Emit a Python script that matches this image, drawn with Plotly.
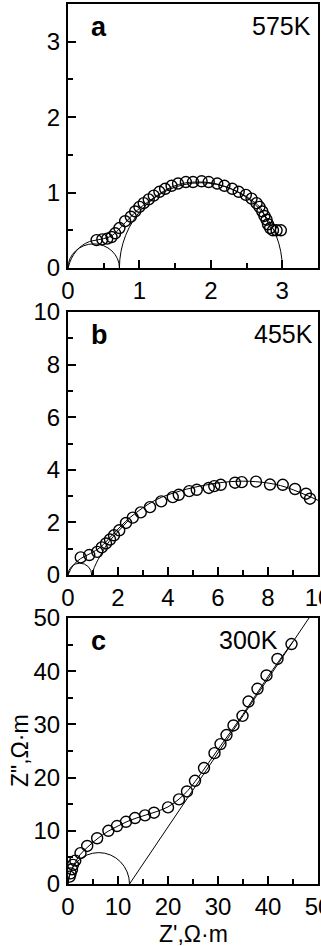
import plotly.graph_objects as go

# ---------------- data ----------------
# panel a : 575 K
a_x = [0.40, 0.48, 0.55, 0.61, 0.66, 0.72, 0.80, 0.88, 0.94, 1.00, 1.06, 1.13, 1.20, 1.28,
       1.36, 1.45, 1.54, 1.65, 1.75, 1.87, 1.97, 2.09, 2.19, 2.30, 2.39, 2.49, 2.57, 2.64,
       2.68, 2.72, 2.75, 2.78, 2.80, 2.83, 2.87, 2.92, 2.98]
a_y = [0.37, 0.38, 0.39, 0.41, 0.46, 0.53, 0.62, 0.68, 0.75, 0.81, 0.86, 0.91, 0.96, 1.01,
       1.05, 1.09, 1.12, 1.14, 1.14, 1.15, 1.14, 1.12, 1.09, 1.05, 1.01, 0.97, 0.92, 0.86,
       0.81, 0.75, 0.69, 0.64, 0.58, 0.53, 0.50, 0.50, 0.50]
a_fit_x = [0, 0.05, 0.12, 0.20, 0.30, 0.40, 0.50, 0.60, 0.70, 0.80, 0.90, 1.00, 1.20, 1.40,
           1.60, 1.80, 2.00, 2.20, 2.40, 2.60, 2.70, 2.78, 2.85]
a_fit_y = [0, 0.13, 0.23, 0.30, 0.35, 0.37, 0.39, 0.42, 0.50, 0.60, 0.70, 0.79, 0.93, 1.05,
           1.12, 1.14, 1.13, 1.08, 1.00, 0.88, 0.79, 0.64, 0.50]
# semicircle arcs of panel a: left end, right end, height
a_arc_left = [0.0, 0.72]
a_arc_right = [0.72, 3.00]
a_arc_height = [0.32, 1.13]

# panel b : 455 K
b_x = [0.51, 0.85, 1.17, 1.35, 1.52, 1.68, 1.84, 2.05, 2.32, 2.59, 2.91, 3.28, 3.73, 4.19,
       4.43, 4.85, 5.15, 5.63, 5.85, 6.11, 6.68, 6.95, 7.52, 8.08, 8.59, 9.08, 9.52, 9.68]
b_y = [0.67, 0.76, 0.88, 1.05, 1.20, 1.35, 1.51, 1.70, 1.98, 2.18, 2.38, 2.58, 2.80, 2.96,
       3.05, 3.19, 3.24, 3.31, 3.38, 3.43, 3.51, 3.53, 3.55, 3.44, 3.43, 3.27, 3.09, 2.90]
b_fit_x = [0, 0.2, 0.5, 0.9, 1.3, 1.8, 2.5, 3.5, 4.5, 5.5, 6.5, 7.5, 8.5, 9.5, 10.0]
b_fit_y = [0, 0.36, 0.62, 0.82, 1.06, 1.55, 2.20, 2.85, 3.20, 3.42, 3.55, 3.55, 3.40, 3.05, 2.84]
b_arc2_x = [0.95, 1.05, 1.20, 1.40, 1.65, 2.00, 2.40]
b_arc2_y = [0.00, 0.28, 0.58, 0.92, 1.28, 1.65, 2.06]
b_arc_left = [0.0]
b_arc_right = [0.95]
b_arc_height = [0.45]

# panel c : 300 K
c_x = [0.33, 0.53, 0.80, 1.00, 1.46, 2.5, 3.84, 5.83, 8.08, 9.8, 11.6, 13.4, 15.4, 17.2,
       20.0, 22.2, 23.8, 25.4, 27.2, 29.3, 30.5, 31.7, 33.1, 34.9, 36.1, 37.9, 39.7, 41.9, 44.7]
c_y = [1.38, 2.0, 2.76, 3.6, 4.4, 5.8, 7.15, 8.6, 10.0, 10.9, 11.7, 12.4, 12.9, 13.4,
       14.4, 15.9, 17.4, 19.4, 21.8, 24.6, 26.3, 28.0, 29.8, 31.6, 34.3, 36.7, 39.2, 42.3, 45.1]
c_fit_x = [0, 0.3, 0.8, 1.5, 2.5, 4, 6, 8, 10, 12, 14, 16, 18, 20, 22, 24, 26, 30, 35, 40, 45]
c_fit_y = [0, 1.5, 2.8, 4.2, 5.6, 7.0, 8.6, 9.9, 10.9, 11.8, 12.5, 13.1, 13.7, 14.5, 15.8,
           17.6, 20.0, 25.3, 31.9, 39.0, 45.6]
c_line_x = [12.3, 48.2]
c_line_y = [0.0, 50.0]
c_arc_left = [0.0]
c_arc_right = [12.3]
c_arc_height = [5.9]

# axis settings
x_ranges = [[0, 3.5], [0, 10], [0, 50]]
y_ranges = [[0, 3.5], [0, 10], [0, 50]]
major = [1, 2, 10]
panel_letters = ["a", "b", "c"]
temps = ["575K", "455K", "300K"]
x_title = "Z',Ω·m"
y_title = 'Z",Ω·m'

# ---------------- figure ----------------
W, H = 321, 946
ML, MR, MT, MB = 68, 3, 4, 62
plot_h = H - MT - MB
bottom_px = H - MB


def py(p):
    return (bottom_px - p) / plot_h


domains = [[py(268), 1.0], [py(575), py(312)], [0.0, py(618)]]
panel_tops = [4, 312, 618]

FONT = "Liberation Sans, Arial, sans-serif"
fig = go.Figure()

mk = dict(symbol="circle-open", size=11, color="black", line=dict(width=1.4, color="black"))
ln = dict(color="black", width=1)

fig.add_trace(go.Scatter(x=a_fit_x, y=a_fit_y, mode="lines", line=dict(shape="spline", **ln),
                         xaxis="x", yaxis="y", hoverinfo="skip"))
fig.add_trace(go.Scatter(x=a_x, y=a_y, mode="markers", marker=mk, xaxis="x", yaxis="y"))

fig.add_trace(go.Scatter(x=b_fit_x, y=b_fit_y, mode="lines", line=dict(shape="spline", **ln),
                         xaxis="x2", yaxis="y2", hoverinfo="skip"))
fig.add_trace(go.Scatter(x=b_arc2_x, y=b_arc2_y, mode="lines", line=dict(shape="spline", **ln),
                         xaxis="x2", yaxis="y2", hoverinfo="skip"))
fig.add_trace(go.Scatter(x=b_x, y=b_y, mode="markers", marker=mk, xaxis="x2", yaxis="y2"))

fig.add_trace(go.Scatter(x=c_fit_x, y=c_fit_y, mode="lines", line=dict(shape="spline", **ln),
                         xaxis="x3", yaxis="y3", hoverinfo="skip"))
fig.add_trace(go.Scatter(x=c_line_x, y=c_line_y, mode="lines", line=ln,
                         xaxis="x3", yaxis="y3", hoverinfo="skip"))
fig.add_trace(go.Scatter(x=c_x, y=c_y, mode="markers", marker=mk, xaxis="x3", yaxis="y3"))

# arcs as clipped ellipses
shapes = []
for (lefts, rights, heights, xr, yr) in [
        (a_arc_left, a_arc_right, a_arc_height, "x", "y"),
        (b_arc_left, b_arc_right, b_arc_height, "x2", "y2"),
        (c_arc_left, c_arc_right, c_arc_height, "x3", "y3")]:
    for l, r, h in zip(lefts, rights, heights):
        shapes.append(dict(type="circle", xref=xr, yref=yr, x0=l, x1=r, y0=-h, y1=h,
                           line=dict(color="black", width=1), layer="above"))

axis_common = dict(showline=True, mirror=True, linecolor="black", linewidth=2,
                   ticks="inside", ticklen=8, tickwidth=1.5, tickcolor="black",
                   showgrid=False, zeroline=False, automargin=False,
                   ticklabeloverflow="allow",
                   tickfont=dict(family=FONT, size=24, color="black"))

layout = dict(width=W, height=H, margin=dict(l=ML, r=MR, t=MT, b=MB, autoexpand=False),
              paper_bgcolor="white", plot_bgcolor="white", showlegend=False,
              shapes=shapes)

for i in range(3):
    sx = "" if i == 0 else str(i + 1)
    layout["xaxis" + sx] = dict(axis_common, domain=[0, 1], range=x_ranges[i], dtick=major[i],
                                tick0=0, anchor="y" + sx, ticklabelstandoff=0,
                                minor=dict(ticks="inside", ticklen=5, tickwidth=1.5,
                                           tickcolor="black", dtick=major[i] / 2))
    layout["yaxis" + sx] = dict(axis_common, domain=domains[i], range=y_ranges[i], dtick=major[i],
                                tick0=0, anchor="x" + sx, ticklabelstandoff=1,
                                minor=dict(ticks="inside", ticklen=5, tickwidth=1.5,
                                           tickcolor="black", dtick=major[i] / 2))

annotations = []
temp_x_px = [313, 315, 280]
for i in range(3):
    top = panel_tops[i]
    annotations.append(dict(text="<b>%s</b>" % panel_letters[i], xref="paper", yref="paper",
                            x=(89 - ML) / 250, y=py(top + 23), xanchor="left", yanchor="middle",
                            showarrow=False, font=dict(family=FONT, size=27, color="black")))
    annotations.append(dict(text=temps[i], xref="paper", yref="paper",
                            x=(temp_x_px[i] - ML) / 250, y=py(top + 22), xanchor="right",
                            yanchor="middle", showarrow=False,
                            font=dict(family=FONT, size=25, color="black")))
annotations.append(dict(text=x_title, xref="paper", yref="paper", x=0.5, y=py(934),
                        xanchor="center", yanchor="middle", showarrow=False,
                        font=dict(family=FONT, size=23, color="black")))
annotations.append(dict(text=y_title, xref="paper", yref="paper", x=(20 - ML) / 250,
                        y=py(751), xanchor="center", yanchor="middle", textangle=-90,
                        showarrow=False, font=dict(family=FONT, size=23, color="black")))
layout["annotations"] = annotations

fig.update_layout(**layout)
fig.write_html("out.html")
